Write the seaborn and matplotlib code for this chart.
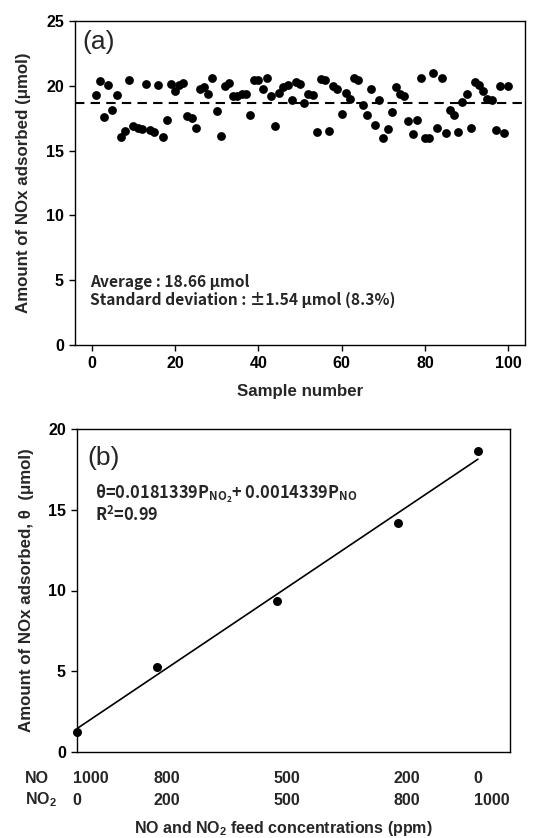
import numpy as np
import pandas as pd
import matplotlib
matplotlib.use('Agg')
import matplotlib.pyplot as plt
import seaborn as sns

# panel (a): repeated adsorption measurements
sample_no = list(range(1, 101))
nox_adsorbed = [
    19.28, 20.38, 17.60, 20.05, 18.12, 19.30, 16.06, 16.50, 20.48, 16.91,
    16.78, 16.63, 20.17, 16.60, 16.47, 20.10, 16.04, 17.37, 20.17, 19.61,
    20.05, 20.23, 17.66, 17.55, 16.76, 19.76, 19.87, 19.33, 20.61, 18.09,
    16.09, 19.99, 20.23, 19.20, 19.20, 19.35, 19.35, 17.71, 20.48, 20.48,
    19.79, 20.61, 19.22, 16.88, 19.46, 19.92, 20.05, 18.89, 20.30, 20.12,
    18.68, 19.40, 19.28, 16.40, 20.51, 20.43, 16.53, 19.97, 19.74, 17.86,
    19.48, 19.02, 20.64, 20.43, 18.50, 17.73, 19.74, 16.96, 18.92, 16.01,
    16.63, 17.99, 19.87, 19.40, 19.20, 17.30, 16.27, 17.35, 20.64, 15.99,
    15.94, 21.02, 16.73, 20.64, 16.32, 18.12, 17.73, 16.45, 18.76, 19.33,
    16.73, 20.30, 20.05, 19.61, 18.97, 18.89, 16.58, 19.97, 16.37, 20.00,
]
average = 18.66

# panel (b): NO / NO2 feed mixtures
no_ppm = [1000, 800, 500, 200, 0]
no2_ppm = [0, 200, 500, 800, 1000]
theta = [1.24, 5.26, 9.37, 14.20, 18.64]
fit_no2 = [0, 1000]
fit_theta = [1.45, 18.13]

sns.set_style('ticks')
plt.rcParams['font.family'] = ['Liberation Sans', 'DejaVu Sans']
plt.rcParams['font.weight'] = 'bold'
plt.rcParams['axes.linewidth'] = 1.0
plt.rcParams['xtick.major.size'] = 4.5
plt.rcParams['ytick.major.size'] = 4.5
plt.rcParams['xtick.color'] = 'black'
plt.rcParams['ytick.color'] = 'black'
plt.rcParams['axes.edgecolor'] = 'black'

kr = ['Noto Sans CJK KR', 'DejaVu Sans']
tick_fs = 11.5
lab_fs = 12.2

W, H = 533, 838
fig = plt.figure(figsize=(W / 100, H / 100), dpi=100)

# ---- (a)
ax1 = fig.add_axes([75 / W, 1 - 345 / H, 450 / W, 324 / H])
df_a = pd.DataFrame({'sample': sample_no, 'nox': nox_adsorbed})
sns.scatterplot(data=df_a, x='sample', y='nox', ax=ax1, color='black',
                s=40, linewidth=0, clip_on=False)
ax1.axhline(average, color='black', lw=1.5, ls=(0, (4.5, 3)))
ax1.set_xlim(-4, 104)
ax1.set_ylim(0, 25)
ax1.set_xticks(range(0, 101, 20))
ax1.set_yticks(range(0, 26, 5))
ax1.tick_params(labelsize=tick_fs, direction='out', width=1)
ax1.set_xlabel('Sample number', fontsize=lab_fs, fontweight='bold', labelpad=9)
ax1.set_ylabel('Amount of NOx adsorbed (\u03bcmol)', fontsize=lab_fs,
               fontweight='bold', labelpad=11)
ax1.text(0.016, 0.935, '(a)', transform=ax1.transAxes, fontsize=19,
         fontweight='normal', va='center', ha='left')
ax1.text(0.033, 0.195, 'Average : 18.66 \u03bcmol', transform=ax1.transAxes,
         fontsize=11.2, fontweight='bold', family=kr, va='center')
ax1.text(0.033, 0.14, 'Standard deviation : \u00b11.54 \u03bcmol (8.3%)',
         transform=ax1.transAxes, fontsize=11.2, fontweight='bold', family=kr,
         va='center')

# ---- (b)
ax2 = fig.add_axes([77 / W, 1 - 752 / H, 433 / W, 323 / H])
df_b = pd.DataFrame({'no2': no2_ppm, 'theta': theta})
sns.lineplot(x=fit_no2, y=fit_theta, ax=ax2, color='black', lw=1.2)
sns.scatterplot(data=df_b, x='no2', y='theta', ax=ax2, color='black',
                s=42, linewidth=0, clip_on=False, zorder=3)
ax2.set_xlim(0, 1080)
ax2.set_ylim(0, 20)
ax2.set_xticks([])
ax2.set_yticks(range(0, 21, 5))
ax2.tick_params(labelsize=tick_fs, direction='out', width=1)
ax2.set_xlabel('')
ax2.set_ylabel('Amount of NOx adsorbed, \u03b8  (\u03bcmol)', fontsize=lab_fs,
               fontweight='bold', labelpad=10)
ax2.text(0.025, 0.91, '(b)', transform=ax2.transAxes, fontsize=19,
         fontweight='normal', va='center', ha='left')
ax2.text(0.042, 0.8,
         '\u03b8=0.0181339P$_{\\mathregular{NO_2}}$+ 0.0014339P$_{\\mathregular{NO}}$',
         transform=ax2.transAxes, fontsize=11.8, fontweight='bold', family=kr,
         va='center')
ax2.text(0.042, 0.733, 'R$^{\\mathregular{2}}$=0.99', transform=ax2.transAxes,
         fontsize=11.8, fontweight='bold', family=kr, va='center')

# two-row category labels under panel (b)
for n_no, n_no2 in zip(no_ppm, no2_ppm):
    ax2.annotate(str(n_no), xy=(n_no2, 0), xycoords=('data', 'axes fraction'),
                 xytext=(-3, -19), textcoords='offset points', ha='left',
                 va='center', fontsize=tick_fs, fontweight='bold')
    ax2.annotate(str(n_no2), xy=(n_no2, 0), xycoords=('data', 'axes fraction'),
                 xytext=(-3, -35), textcoords='offset points', ha='left',
                 va='center', fontsize=tick_fs, fontweight='bold')
fig.text(25 / W, 1 - 778 / H, 'NO', fontsize=tick_fs, fontweight='bold',
         ha='left', va='center')
fig.text(25 / W, 1 - 800 / H, 'NO$_{\\mathregular{2}}$', fontsize=tick_fs,
         fontweight='bold', ha='left', va='center')
fig.text(283 / W, 1 - 828 / H,
         'NO and NO$_{\\mathregular{2}}$ feed concentrations (ppm)',
         fontsize=11.5, fontweight='bold', ha='center', va='center')

fig.savefig('out.png', dpi=100)
